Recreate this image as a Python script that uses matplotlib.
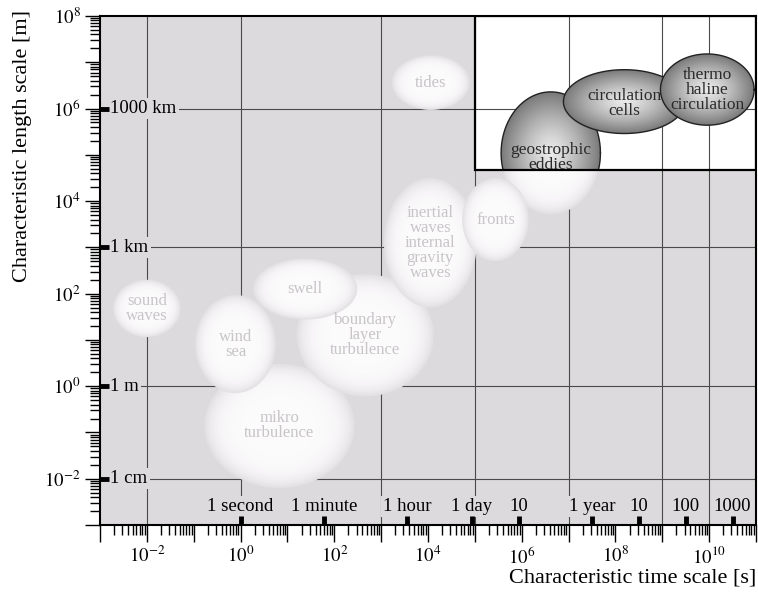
import numpy as np
import matplotlib
matplotlib.use("Agg")
import matplotlib.pyplot as plt
from matplotlib.patches import Rectangle
from matplotlib.ticker import LogLocator, FuncFormatter, NullFormatter


# ============================================================
# Data (log10 of time [s] and length [m])
# ============================================================

# light ("small scale") processes: centre and half-widths in decades
LIGHT_LABELS = ["mikro\nturbulence", "boundary\nlayer\nturbulence",
                "inertial\nwaves\ninternal\ngravity\nwaves",
                "wind\nsea", "swell", "sound\nwaves", "tides",
                "geostrophic\neddies", "fronts"]
LIGHT_CX = [0.83, 2.66, 4.05, -0.11, 1.38, -2.00, 4.06, 6.62, 5.44]
LIGHT_CY = [-0.86, 1.10, 3.10, 0.91, 2.10, 1.68, 6.56, 5.04, 3.60]
LIGHT_RX = [1.60, 1.46, 0.99, 0.86, 1.11, 0.72, 0.83, 1.06, 0.71]
LIGHT_RY = [1.34, 1.32, 1.40, 1.06, 0.66, 0.62, 0.59, 1.32, 0.90]
LIGHT_SHOW_TEXT = [True, True, True, True, True, True, True, False, True]

# dark ("large scale") processes inside the framed region
DARK_LABELS = ["geostrophic\neddies", "circulation\ncells",
               "thermo\nhaline\ncirculation"]
DARK_CX = [6.62, 8.19, 9.96]
DARK_CY = [5.04, 6.15, 6.41]
DARK_RX = [1.06, 1.30, 1.00]
DARK_RY = [1.32, 0.69, 0.77]
DARK_TEXT_DY = [-0.10, -0.05, 0.0]

# framed region
BOX_X = (1e5, 1e11)
BOX_Y = (10 ** 4.68, 1e8)

# grid lines
GRID_X = [1e-2, 1e0, 1e3, 1e5, 1e7, 1e9, 1e10]
GRID_Y = [1e6, 1e3, 1e0, 1e-2]

# named time / length marks
TIME_MARKS = [1, 60, 3600, 86400, 864000, 3.156e7, 3.156e8, 3.156e9, 3.156e10]
TIME_LABELS = ["1 second", "1 minute", "1 hour", "1 day", "10",
               "1 year", "10", "100", "1000"]
LENGTH_MARKS = [1e6, 1e3, 1e0, 1e-2]
LENGTH_LABELS = ["1000 km", "1 km", "1 m", "1 cm"]

XLIM = (1e-3, 1e11)
YLIM = (1e-3, 1e8)

BG = "#dcdadc"
SERIF = ["Liberation Serif", "DejaVu Serif"]

plt.rcParams["font.family"] = SERIF
plt.rcParams["mathtext.fontset"] = "stix"


# ============================================================
# Helpers
# ============================================================

def gradient_ellipse(ax, cx, cy, rx, ry, edge, centre, power, zorder,
                     clip=None, steps=45):
    """Fill an ellipse (defined in log10 space) with a radial gradient."""
    t = np.linspace(0, 2 * np.pi, 240)
    edge = np.array(matplotlib.colors.to_rgb(edge))
    centre = np.array(matplotlib.colors.to_rgb(centre))
    for i in range(steps):
        s = 1.0 - i / steps
        w = 1.0 - s ** power
        col = edge + (centre - edge) * w
        xs = 10 ** (cx + s * rx * np.cos(t))
        ys = 10 ** (cy + s * ry * np.sin(t))
        polys = ax.fill(xs, ys, color=col, lw=0, zorder=zorder)
        if clip is not None:
            for p in polys:
                p.set_clip_path(clip)


def decade_formatter(v, pos):
    n = int(round(np.log10(v)))
    return f"$10^{{{n}}}$" if n % 2 == 0 else ""


# ============================================================
# Plot
# ============================================================

fig = plt.figure(figsize=(7.58, 6.01), dpi=100)
ax = fig.add_axes([100 / 758, 1 - 525 / 601, 656 / 758, 509 / 601])
ax.set_xscale("log")
ax.set_yscale("log")
ax.set_xlim(*XLIM)
ax.set_ylim(*YLIM)
ax.set_facecolor(BG)

# white framed region
box = Rectangle((BOX_X[0], BOX_Y[0]), BOX_X[1] - BOX_X[0], BOX_Y[1] - BOX_Y[0],
                facecolor="white", edgecolor="none", zorder=0.2)
ax.add_patch(box)

for gx in GRID_X:
    ax.axvline(gx, color="#4a4a4a", lw=0.8, zorder=0.5)
for gy in GRID_Y:
    ax.axhline(gy, color="#4a4a4a", lw=0.8, zorder=0.5)

# light ellipses
for lab, cx, cy, rx, ry, show in zip(LIGHT_LABELS, LIGHT_CX, LIGHT_CY,
                                     LIGHT_RX, LIGHT_RY, LIGHT_SHOW_TEXT):
    gradient_ellipse(ax, cx, cy, rx, ry, "#e4e1e4", "#fcfbfc", 6, zorder=1)
    if show:
        ax.text(10 ** cx, 10 ** cy, lab, ha="center", va="center",
                fontsize=12, color="#c8c4c8", linespacing=0.92, zorder=4)

# dark ellipses (clipped to the frame)
for lab, cx, cy, rx, ry, dy in zip(DARK_LABELS, DARK_CX, DARK_CY,
                                   DARK_RX, DARK_RY, DARK_TEXT_DY):
    gradient_ellipse(ax, cx, cy, rx, ry, "#7a7a7a", "#ebebeb", 1.3,
                     zorder=2, clip=box)
    t = np.linspace(0, 2 * np.pi, 240)
    outline, = ax.plot(10 ** (cx + rx * np.cos(t)), 10 ** (cy + ry * np.sin(t)),
                       color="#222222", lw=1.0, zorder=2)
    outline.set_clip_path(box)
    ax.text(10 ** cx, 10 ** (cy + dy), lab, ha="center", va="center",
            fontsize=12.5, color="#2a2a2a", linespacing=0.92, zorder=4)

# frame outline on top
ax.add_patch(Rectangle((BOX_X[0], BOX_Y[0]), BOX_X[1] - BOX_X[0],
                       BOX_Y[1] - BOX_Y[0], fill=False, edgecolor="black",
                       lw=1.6, zorder=3))

# named marks along the axes
for tm, lab in zip(TIME_MARKS, TIME_LABELS):
    ax.plot([tm, tm], [0, 0.017], transform=ax.get_xaxis_transform(),
            color="black", lw=3.5, solid_capstyle="butt", zorder=5)
    ax.text(tm, 0.036, lab, transform=ax.get_xaxis_transform(),
            ha="center", va="center", fontsize=13.5, zorder=4,
            bbox=dict(facecolor=BG, edgecolor="none", pad=1.5))
for lm, lab in zip(LENGTH_MARKS, LENGTH_LABELS):
    ax.plot([0, 0.013], [lm, lm], transform=ax.get_yaxis_transform(),
            color="black", lw=3.5, solid_capstyle="butt", zorder=5)
    ax.text(0.016, lm, lab, transform=ax.get_yaxis_transform(),
            ha="left", va="center", fontsize=13.5, zorder=4,
            bbox=dict(facecolor=BG, edgecolor="none", pad=1.5))

# ticks
for axis in (ax.xaxis, ax.yaxis):
    axis.set_major_locator(LogLocator(base=10, numticks=100))
    axis.set_minor_locator(LogLocator(base=10, subs=np.arange(2, 10), numticks=100))
    axis.set_major_formatter(FuncFormatter(decade_formatter))
    axis.set_minor_formatter(NullFormatter())

ax.tick_params(axis="x", which="major", direction="out", length=12, width=1,
               labelsize=13.5, pad=3)
ax.tick_params(axis="x", which="minor", direction="out", length=7, width=1)
ax.tick_params(axis="y", which="major", direction="out", length=11, width=1,
               labelsize=13.5, pad=3)
ax.tick_params(axis="y", which="minor", direction="out", length=7, width=1)

for sp in ax.spines.values():
    sp.set_linewidth(1.5)

ax.set_xlabel("Characteristic time scale [s]", fontsize=16, loc="right")
ax.xaxis.set_label_coords(1.0, -0.085)
ax.set_ylabel("Characteristic length scale [m]", fontsize=16, loc="top")
ax.yaxis.set_label_coords(-0.104, 1.012)

fig.savefig("out.png", dpi=100)
